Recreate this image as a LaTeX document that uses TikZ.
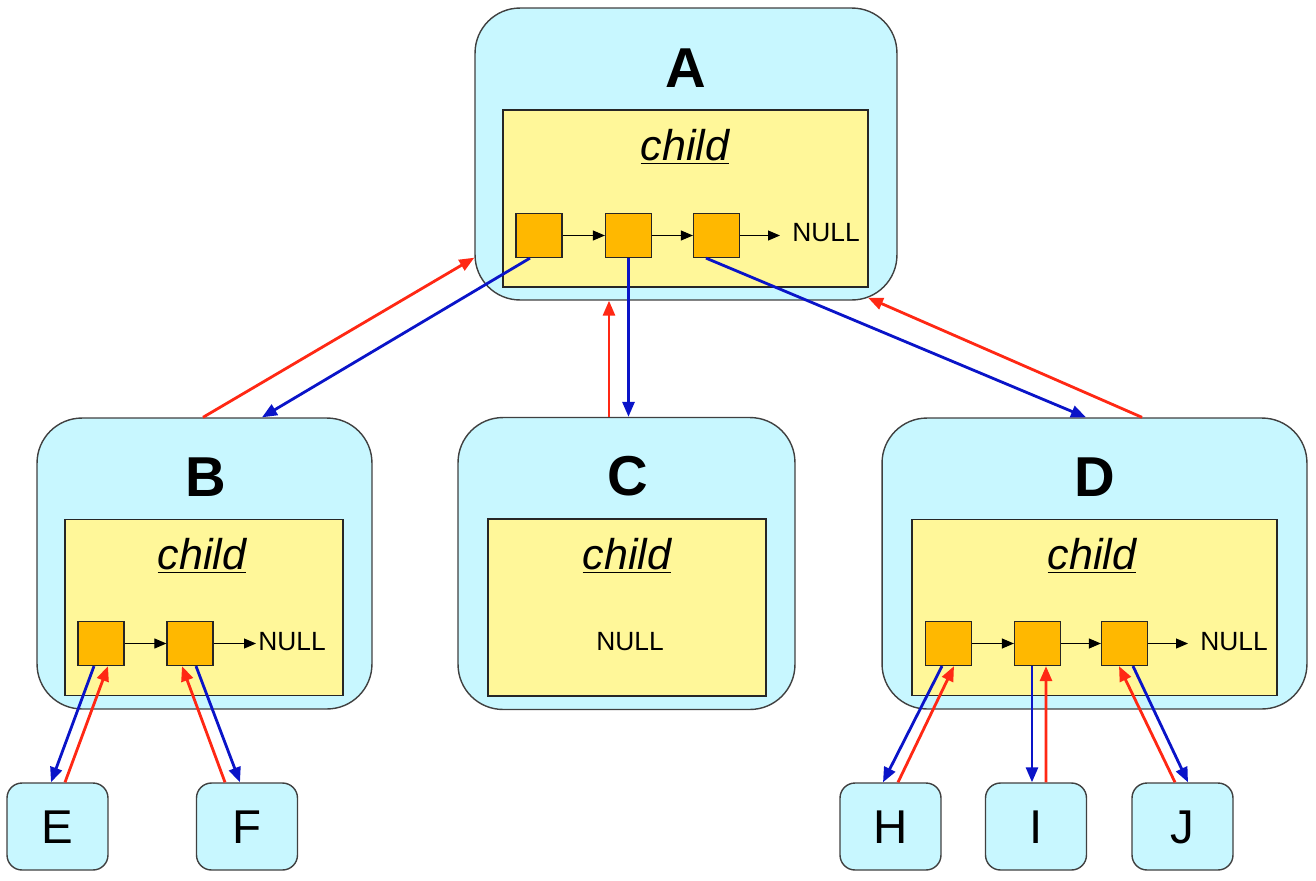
\documentclass[tikz,border=0pt]{standalone}
\usepackage{fontspec}
\setmainfont{Liberation Sans}
\usetikzlibrary{calc,arrows.meta}
\definecolor{boxcyan}{RGB}{200,247,255}
\definecolor{boxyellow}{RGB}{255,247,153}
\definecolor{celloran}{RGB}{255,184,0}
\definecolor{upred}{RGB}{255,40,20}
\definecolor{downblue}{RGB}{10,20,200}
\tikzset{
	outerbox/.style={draw=black!75, fill=boxcyan, rounded corners=0.9cm, line width=0.8pt, inner sep=0},
	innerbox/.style={draw=black!85, fill=boxyellow, line width=0.8pt, inner sep=0},
	cell/.style={draw=black!85, fill=celloran, line width=0.7pt, minimum width=0.92cm, minimum height=0.88cm, inner sep=0},
	leaf/.style={draw=black!75, fill=boxcyan, rounded corners=0.3cm, line width=0.8pt, minimum width=2.02cm, minimum height=1.74cm, inner sep=0},
	bigname/.style={anchor=base, font=\bfseries\fontsize{32}{36}\selectfont},
	leafname/.style={anchor=base, font=\fontsize{27}{30}\selectfont},
	childtag/.style={anchor=base, font=\itshape\fontsize{24.5}{28}\selectfont},
	nulltag/.style={anchor=base west, inner sep=0, font=\fontsize{15}{18}\selectfont},
	nextptr/.style={-{Triangle[length=0.24cm,width=0.2cm]}, line width=0.6pt},
	uplink/.style={draw=upred, -{Triangle[length=0.3cm,width=0.24cm]}, line width=1.6pt},
	downlink/.style={draw=downblue, -{Triangle[length=0.3cm,width=0.24cm]}, line width=1.6pt}
}
\begin{document}
\begin{tikzpicture}[x=0.02cm, y=-0.02cm]
		%%%%% START %%%%%
		\useasboundingbox (0, 0) rectangle (1316, 880);
		
		% parent A
		\node[outerbox, minimum width=8.44cm, minimum height=5.84cm] (oA) at (686, 154) {};
		\node[innerbox, minimum width=7.3cm, minimum height=3.54cm] (iA) at (685.5, 198.5) {};
		\node[bigname] (lA) at (686, 87) {A};
		\node[childtag] (tA) at (685, 160) {\underline{child}};
		\node[cell] (cA1) at (539, 235.5) {};
		\node[cell] (cA2) at (628.5, 235.5) {};
		\node[cell] (cA3) at (716.5, 235.5) {};
		\node[nulltag] (nA) at (792, 241) {NULL};
		\draw[nextptr] (cA1.east) -- (cA2.west);
		\draw[nextptr] (cA2.east) -- (cA3.west);
		\draw[nextptr] (cA3.east) -- ($(cA3.east -| nA.west)+(-12, 0)$);
		
		% children B, C, D
		\node[outerbox, minimum width=6.7cm, minimum height=5.82cm] (oB) at (204.5, 563.5) {};
		\node[innerbox, minimum width=5.56cm, minimum height=3.52cm] (iB) at (204, 607.5) {};
		\node[bigname] (lB) at (206, 496) {B};
		\node[childtag] (tB) at (202, 569) {\underline{child}};
		\node[cell] (cB1) at (101, 643.5) {};
		\node[cell] (cB2) at (190, 643.5) {};
		\node[nulltag] (nB) at (258, 650) {NULL};
		\draw[nextptr] (cB1.east) -- (cB2.west);
		\draw[nextptr] (cB2.east) -- ($(cB2.east -| nB.west)+(-2, 0)$);
		
		\node[outerbox, minimum width=6.74cm, minimum height=5.84cm] (oC) at (626.5, 563.5) {};
		\node[innerbox, minimum width=5.56cm, minimum height=3.54cm] (iC) at (627, 607.5) {};
		\node[bigname] (lC) at (628, 495) {C};
		\node[childtag] (tC) at (627, 569) {\underline{child}};
		\node[nulltag, anchor=base] (nC) at (630, 650) {NULL};
		
		\node[outerbox, minimum width=8.5cm, minimum height=5.82cm] (oD) at (1094.5, 563.5) {};
		\node[innerbox, minimum width=7.3cm, minimum height=3.52cm] (iD) at (1094.5, 607.5) {};
		\node[bigname] (lD) at (1095, 496) {D};
		\node[childtag] (tD) at (1092, 569) {\underline{child}};
		\node[cell] (cD1) at (948.5, 643.5) {};
		\node[cell] (cD2) at (1037.5, 643.5) {};
		\node[cell] (cD3) at (1124.5, 643.5) {};
		\node[nulltag] (nD) at (1200, 650) {NULL};
		\draw[nextptr] (cD1.east) -- (cD2.west);
		\draw[nextptr] (cD2.east) -- (cD3.west);
		\draw[nextptr] (cD3.east) -- ($(cD3.east -| nD.west)+(-12, 0)$);
		
		% leaves
		\node[leaf] (E) at (57.5, 826.5) {};
		\node[leafname] at (57.5, 843) {E};
		\node[leaf] (F) at (247, 826.5) {};
		\node[leafname] at (247, 843) {F};
		\node[leaf] (H) at (890.5, 826.5) {};
		\node[leafname] at (890.5, 843) {H};
		\node[leaf] (I) at (1036, 826.5) {};
		\node[leafname] at (1036, 843) {I};
		\node[leaf] (J) at (1182.5, 826.5) {};
		\node[leafname] at (1182.5, 843) {J};
		
		% A <-> B, C, D
		\draw[uplink] ($(oB.north)+(-1.5, 0)$) -- ($(oA.south west)+(0, -43)$);
		\draw[downlink] ($(cA1.south)+(-9, 0)$) -- ($(oB.north)+(57.5, 0)$);
		\draw[uplink] ($(oC.north)+(-17.5, 0)$) -- ($(oA.south)+(-77, 0)$);
		\draw[downlink] (cA2.south) -- (cA2.south |- oC.north);
		\draw[uplink] ($(oD.north)+(47.5, 0)$) -- ($(oA.south)+(182, -3)$);
		\draw[downlink] ($(cA3.south)+(-10.5, 0)$) -- ($(oD.north)+(-8.5, 0)$);
		
		% B <-> E, F
		\draw[downlink] ($(cB1.south)+(-7, 0)$) -- ($(E.north)+(-6.5, 0)$);
		\draw[uplink] ($(E.north)+(7.5, 0)$) -- ($(cB1.south)+(7, 0)$);
		\draw[uplink] ($(F.north)+(-22, 0)$) -- ($(cB2.south)+(-8, 0)$);
		\draw[downlink] ($(cB2.south)+(6, 0)$) -- ($(F.north)+(-7, 0)$);
		
		% D <-> H, I, J
		\draw[downlink] ($(cD1.south)+(-6.5, 0)$) -- ($(H.north)+(-7.5, 0)$);
		\draw[uplink] ($(H.north)+(7.5, 0)$) -- ($(cD1.south)+(5.5, 0)$);
		\draw[downlink] ($(cD2.south)+(-5.5, 0)$) -- ($(I.north)+(-4, 0)$);
		\draw[uplink] ($(I.north)+(10, 0)$) -- ($(cD2.south)+(8.5, 0)$);
		\draw[uplink] ($(J.north)+(-7.5, 0)$) -- ($(cD3.south)+(-5.5, 0)$);
		\draw[downlink] ($(cD3.south)+(8.5, 0)$) -- ($(J.north)+(5.5, 0)$);
		%%%%% END %%%%%
	\end{tikzpicture}
\end{document}
